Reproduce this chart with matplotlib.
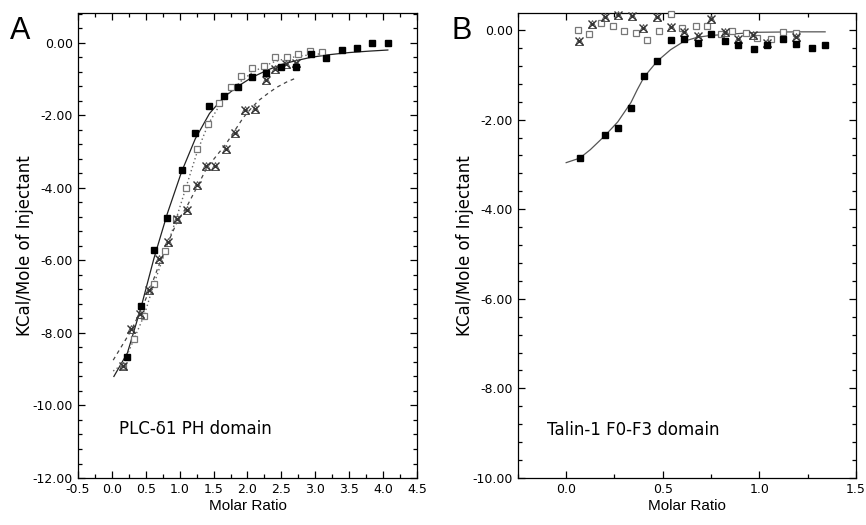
import numpy as np
import matplotlib
matplotlib.use("Agg")
import matplotlib.pyplot as plt
from matplotlib.ticker import MultipleLocator, FormatStrFormatter

# ── Panel A: PLC-delta1 PH domain ────────────────────────────────────────────
a_filled_x = [0.23, 0.43, 0.62, 0.82, 1.03, 1.23, 1.44, 1.65, 1.86, 2.07, 2.28,
              2.50, 2.72, 2.94, 3.16, 3.39, 3.61, 3.83, 4.07]
a_filled_y = [-8.66, -7.26, -5.72, -4.82, -3.52, -2.49, -1.75, -1.46, -1.21, -0.94,
              -0.82, -0.66, -0.68, -0.31, -0.43, -0.19, -0.15, -0.01, -0.01]

a_open_x = [0.17, 0.32, 0.48, 0.62, 0.79, 0.95, 1.10, 1.26, 1.42, 1.58, 1.75,
            1.91, 2.07, 2.24, 2.41, 2.58, 2.75, 2.92, 3.10]
a_open_y = [-8.92, -8.18, -7.54, -6.64, -5.75, -4.85, -4.00, -2.93, -2.23, -1.65,
            -1.21, -0.91, -0.69, -0.63, -0.39, -0.39, -0.32, -0.24, -0.25]

a_cross_x = [0.17, 0.28, 0.41, 0.55, 0.69, 0.83, 0.96, 1.11, 1.25, 1.39, 1.52,
             1.68, 1.82, 1.97, 2.11, 2.27, 2.41, 2.57, 2.72]
a_cross_y = [-8.92, -7.89, -7.47, -6.83, -5.95, -5.50, -4.85, -4.60, -3.92, -3.41,
             -3.41, -2.93, -2.50, -1.85, -1.83, -1.03, -0.72, -0.59, -0.57]

# fitted curves
a_fit1_x = [0.03, 0.23, 0.43, 0.62, 0.82, 1.03, 1.23, 1.44, 1.65, 1.86, 2.07,
            2.30, 2.50, 2.70, 2.94, 3.20, 3.50, 3.80, 4.07]
a_fit1_y = [-9.20, -8.55, -7.30, -5.95, -4.70, -3.55, -2.65, -1.95, -1.50, -1.20,
            -0.95, -0.75, -0.60, -0.50, -0.40, -0.33, -0.27, -0.23, -0.20]
a_fit2_x = [0.02, 0.17, 0.32, 0.48, 0.62, 0.79, 0.95, 1.10, 1.26, 1.42, 1.58,
            1.75, 1.91, 2.07, 2.24, 2.40, 2.60, 2.80, 3.10]
a_fit2_y = [-9.05, -8.85, -8.20, -7.50, -6.65, -5.75, -4.85, -3.95, -3.00, -2.25,
            -1.75, -1.35, -1.05, -0.82, -0.65, -0.52, -0.42, -0.36, -0.30]
a_fit3_x = [0.02, 0.15, 0.28, 0.41, 0.55, 0.69, 0.83, 0.96, 1.11, 1.25, 1.40,
            1.55, 1.68, 1.82, 1.94, 2.05, 2.16, 2.30, 2.43, 2.58, 2.72]
a_fit3_y = [-8.75, -8.35, -7.95, -7.45, -6.85, -6.15, -5.50, -4.95, -4.50, -4.00,
            -3.45, -3.10, -2.80, -2.40, -2.06, -1.82, -1.60, -1.40, -1.23, -1.08, -0.97]

# ── Panel B: Talin-1 F0-F3 domain ────────────────────────────────────────────
b_filled_x = [0.069, 0.20, 0.267, 0.335, 0.403, 0.47, 0.54, 0.61, 0.68, 0.75,
              0.82, 0.89, 0.97, 1.04, 1.12, 1.19, 1.27, 1.34]
b_filled_y = [-2.86, -2.34, -2.18, -1.73, -1.02, -0.69, -0.22, -0.20, -0.29, -0.08,
              -0.25, -0.34, -0.42, -0.34, -0.19, -0.31, -0.39, -0.34]

b_open_x = [0.0625, 0.12, 0.18, 0.24, 0.30, 0.36, 0.42, 0.48, 0.54, 0.60,
            0.67, 0.73, 0.80, 0.86, 0.93, 0.99, 1.06, 1.12, 1.19]
b_open_y = [-0.01, -0.08, 0.16, 0.10, -0.02, -0.07, -0.23, -0.02, 0.36, 0.04,
            0.10, 0.10, -0.09, -0.03, -0.07, -0.18, -0.20, -0.05, -0.07]

b_cross_x = [0.068, 0.135, 0.203, 0.27, 0.34, 0.40, 0.47, 0.54, 0.61, 0.68,
             0.75, 0.82, 0.89, 0.965, 1.04, 1.19]
b_cross_y = [-0.25, 0.14, 0.30, 0.34, 0.32, 0.05, 0.29, 0.06, -0.05, -0.14,
             0.25, -0.05, -0.20, -0.10, -0.30, -0.15]

b_fit_x = [0.0, 0.07, 0.125, 0.20, 0.267, 0.335, 0.368, 0.403, 0.47, 0.54,
           0.61, 0.68, 0.75, 0.82, 0.99, 1.20, 1.34]
b_fit_y = [-2.96, -2.86, -2.67, -2.36, -2.05, -1.62, -1.33, -1.05, -0.70, -0.44,
           -0.25, -0.16, -0.12, -0.10, -0.05, -0.04, -0.04]

fig = plt.figure(figsize=(8.66, 5.25), dpi=100)
axA = fig.add_axes([0.090, 0.0895, 0.3915, 0.8857])
axB = fig.add_axes([0.598, 0.0895, 0.3905, 0.8857])


def style_axis(ax):
    ax.tick_params(which="both", direction="in", top=True, right=True,
                   width=0.9, labelsize=9)
    ax.tick_params(which="major", length=5)
    ax.tick_params(which="minor", length=3)
    for sp in ax.spines.values():
        sp.set_linewidth(0.9)
    ax.yaxis.set_major_formatter(FormatStrFormatter("%.2f"))
    ax.xaxis.set_major_formatter(FormatStrFormatter("%.1f"))
    ax.set_xlabel("Molar Ratio", fontsize=11, family="Liberation Sans", labelpad=2)
    ax.set_ylabel("KCal/Mole of Injectant", fontsize=12, family="DejaVu Sans",
                  labelpad=-1)


def draw_markers(ax, fx, fy, ox, oy, cx, cy):
    ax.plot(ox, oy, ls="none", marker="s", ms=5, mfc="white", mec="#777777",
            mew=0.9, zorder=3, clip_on=False)
    ax.plot(cx, cy, ls="none", marker="^", ms=5.5, mfc="none", mec="#555555",
            mew=0.7, zorder=4, clip_on=False)
    ax.plot(cx, cy, ls="none", marker="x", ms=5.5, mec="#333333", mew=1.0,
            zorder=4, clip_on=False)
    ax.plot(fx, fy, ls="none", marker="s", ms=5, mfc="black", mec="black", zorder=5)


# panel A
axA.plot(a_fit1_x, a_fit1_y, color="#222222", lw=0.9)
axA.plot(a_fit2_x, a_fit2_y, color="#666666", lw=1.0, ls=(0, (1, 2)))
axA.plot(a_fit3_x, a_fit3_y, color="#444444", lw=0.9, ls=(0, (3, 3)))
draw_markers(axA, a_filled_x, a_filled_y, a_open_x, a_open_y, a_cross_x, a_cross_y)
axA.set_xlim(-0.5, 4.5)
axA.set_ylim(-12, 0.82)
axA.xaxis.set_major_locator(MultipleLocator(0.5))
axA.xaxis.set_minor_locator(MultipleLocator(0.25))
axA.yaxis.set_major_locator(MultipleLocator(2))
axA.yaxis.set_minor_locator(MultipleLocator(0.4))
style_axis(axA)
axA.text(0.1, -10.8, "PLC-δ1 PH domain", fontsize=12, family="DejaVu Sans")

# panel B
axB.plot(b_fit_x, b_fit_y, color="#555555", lw=0.9)
draw_markers(axB, b_filled_x, b_filled_y, b_open_x, b_open_y, b_cross_x, b_cross_y)
axB.set_xlim(-0.25, 1.5)
axB.set_ylim(-10, 0.38)
axB.xaxis.set_major_locator(MultipleLocator(0.5))
axB.xaxis.set_minor_locator(MultipleLocator(0.25))
axB.yaxis.set_major_locator(MultipleLocator(2))
axB.yaxis.set_minor_locator(MultipleLocator(0.4))
style_axis(axB)
axB.text(-0.1, -9.05, "Talin-1 F0-F3 domain", fontsize=12, family="DejaVu Sans")

fig.text(0.012, 0.925, "A", fontsize=22, family="Liberation Sans")
fig.text(0.521, 0.925, "B", fontsize=22, family="Liberation Sans")

fig.savefig("out.png", dpi=100)
